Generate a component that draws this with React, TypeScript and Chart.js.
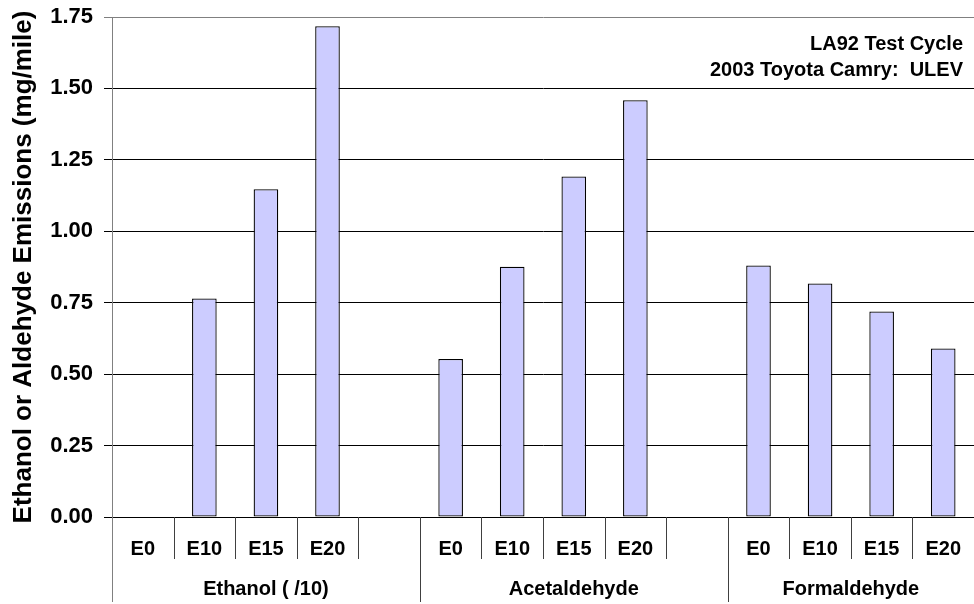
import React, { useEffect, useRef } from "react";
import { Chart, registerables } from "chart.js";

Chart.register(...registerables);

const FONT = "'Liberation Sans', Arial, Helvetica, sans-serif";

const fuelLabels = ["E0", "E10", "E15", "E20"];
const groupLabels = ["Ethanol ( /10)", "Acetaldehyde", "Formaldehyde"];
const ethanolValues = [0, 0.765, 1.147, 1.718];
const acetaldehydeValues = [0.553, 0.876, 1.192, 1.459];
const formaldehydeValues = [0.88, 0.817, 0.719, 0.59];
const yTicks = [0, 0.25, 0.5, 0.75, 1.0, 1.25, 1.5, 1.75];
const annotationLines = ["LA92 Test Cycle", "2003 Toyota Camry:  ULEV"];
const yTitle = "Ethanol or Aldehyde Emissions (mg/mile)";

// slots: 4 fuels + spacer, 4 fuels + spacer, 4 fuels
const slotLabels = [...fuelLabels, "", ...fuelLabels, "", ...fuelLabels];
const groupSizes = [5, 5, 4];
const barValues = [
  ...ethanolValues,
  null,
  ...acetaldehydeValues,
  null,
  ...formaldehydeValues,
];

const axisLabelsPlugin = {
  id: "axisLabels",
  afterDraw(chart: any) {
    const { ctx, chartArea, scales } = chart;
    const x = scales.x;
    const n = slotLabels.length;
    const slot = (chartArea.right - chartArea.left) / n;
    const bottom = chartArea.bottom;
    ctx.save();
    ctx.strokeStyle = "#404040";
    ctx.lineWidth = 1;
    const groupStarts: number[] = [];
    let acc = 0;
    groupSizes.forEach((s) => {
      groupStarts.push(acc);
      acc += s;
    });
    for (let i = 1; i < n; i++) {
      const px = Math.round(x.getPixelForValue(i) - slot / 2) + 0.5;
      const isGroup = groupStarts.includes(i);
      ctx.beginPath();
      ctx.moveTo(px, bottom);
      ctx.lineTo(px, isGroup ? bottom + 85 : bottom + 42);
      ctx.stroke();
    }
    ctx.strokeStyle = "#808080";
    ctx.beginPath();
    const lx = Math.round(chartArea.left) + 0.5;
    ctx.moveTo(lx, bottom);
    ctx.lineTo(lx, bottom + 85);
    ctx.stroke();

    ctx.fillStyle = "#000";
    ctx.font = `bold 20px ${FONT}`;
    ctx.textAlign = "center";
    ctx.textBaseline = "middle";
    for (let i = 0; i < n; i++) {
      if (!slotLabels[i]) continue;
      ctx.fillText(slotLabels[i], x.getPixelForValue(i), bottom + 32);
    }
    groupLabels.forEach((g, gi) => {
      const start = groupStarts[gi];
      const size = groupSizes[gi];
      const x0 = x.getPixelForValue(start) - slot / 2;
      const x1 = x.getPixelForValue(start + size - 1) + slot / 2;
      ctx.fillText(g, (x0 + x1) / 2, bottom + 72);
    });

    ctx.textAlign = "right";
    annotationLines.forEach((line, i) => {
      ctx.fillText(line, 963, 44 + i * 26);
    });
    ctx.restore();
  },
};

export default function App() {
  const canvasRef = useRef<HTMLCanvasElement | null>(null);

  useEffect(() => {
    if (!canvasRef.current) return;
    const chart = new Chart(canvasRef.current, {
      type: "bar",
      data: {
        labels: slotLabels,
        datasets: [
          {
            data: barValues as any,
            backgroundColor: "#CCCCFF",
            borderColor: "#000000",
            borderWidth: 1.3,
            borderSkipped: false,
            barPercentage: 0.4,
            categoryPercentage: 1,
          },
        ],
      },
      options: {
        animation: false,
        responsive: false,
        maintainAspectRatio: false,
        layout: { padding: { top: 17, left: 0, right: 0, bottom: 0 } },
        plugins: {
          legend: { display: false },
          tooltip: { enabled: false },
          title: { display: false },
        },
        scales: {
          x: {
            type: "category",
            grid: { display: false },
            border: { display: false },
            ticks: { display: false },
            afterFit(scale: any) {
              scale.height = 87;
              scale.paddingLeft = 0;
              scale.paddingRight = 0;
            },
          },
          y: {
            min: 0,
            max: 1.75,
            afterBuildTicks(scale: any) {
              scale.ticks = yTicks.map((v) => ({ value: v }));
            },
            ticks: {
              color: "#000",
              padding: 11,
              font: { family: FONT, size: 22, weight: "bold" },
              callback: (v: any) => Number(v).toFixed(2),
            },
            grid: {
              color: (c: any) => (c.tick && c.tick.value === 1.75 ? "#808080" : "#000000"),
              lineWidth: 1,
              tickLength: 8,
              drawTicks: true,
            },
            border: { display: true, color: "#808080", width: 1 },
            title: {
              display: true,
              text: yTitle,
              color: "#000",
              font: { family: FONT, size: 26, weight: "bold" },
              padding: { top: 8, bottom: 0 },
            },
            afterFit(scale: any) {
              scale.width = 112;
              scale.paddingTop = 0;
              scale.paddingBottom = 0;
            },
          },
        },
      },
      plugins: [axisLabelsPlugin],
    });
    return () => chart.destroy();
  }, []);

  return (
    <div style={{ position: "absolute", left: 0, top: 0, width: 974, height: 604, background: "#fff" }}>
      <canvas ref={canvasRef} width={974} height={604} style={{ display: "block" }} />
    </div>
  );
}
